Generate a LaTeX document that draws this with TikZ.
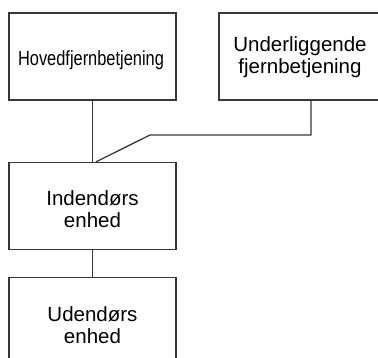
\documentclass[tikz,border=0pt]{standalone}
\usepackage{fontspec}
\setmainfont{Liberation Sans}
\begin{document}
\begin{tikzpicture}[x=1pt,y=-1pt,
  unit/.style={draw=black!78, line width=1.3pt, fill=white, inner sep=0pt,
    minimum width=167pt, minimum height=87pt},
  caption/.style={align=center, inner sep=0pt, font=\fontsize{20.5}{22}\selectfont},
  link/.style={draw=black!78, line width=1.3pt}]
\useasboundingbox (0,0) rectangle (378,358);
\clip (0,0) rectangle (378,358);
% unit boxes
\node[unit] (hoved) at (92.5,56.5) {};
\node[unit, minimum width=162pt] (under) at (300,56.5) {};
\node[unit] (inde) at (92.5,206) {};
\node[unit] (ude) at (92.5,321) {};
% unit captions
\node[caption, anchor=base] (hovedtxt) at (91,66) {\scalebox{0.8}[1]{Hovedfjernbetjening}};
\node[caption] (undertxt) at ([yshift=-1pt]under.center) {Underliggende\\fjernbetjening};
\node[caption] (indetxt) at ([yshift=-3pt]inde.center) {Indendørs\\enhed};
\node[caption] (udetxt) at ([yshift=-4pt]ude.center) {Udendørs\\enhed};
% wiring
\coordinate (bendA) at (311,135);
\coordinate (bendB) at (150,135);
\draw[link] (hoved.south) -- (inde.north);
\draw[link] (under.south -| bendA) -- (bendA) -- (bendB) -- ([xshift=3.5pt]inde.north);
\draw[link] (inde.south) -- (ude.north);
\end{tikzpicture}
\end{document}
